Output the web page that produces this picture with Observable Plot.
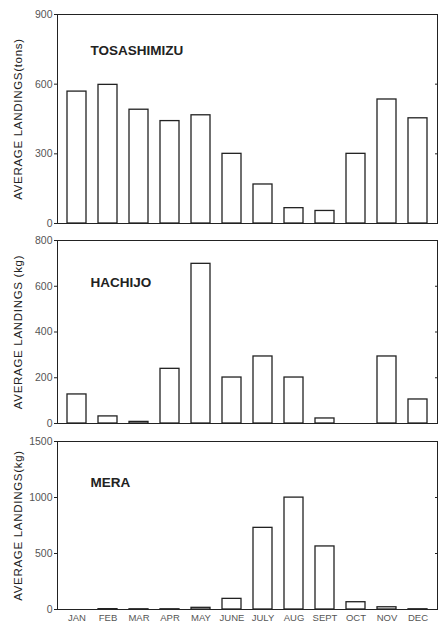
<!DOCTYPE html>
<html>
<head>
<meta charset="utf-8">
<script src="https://cdn.jsdelivr.net/npm/d3@7"></script>
<script src="https://cdn.jsdelivr.net/npm/@observablehq/plot@0.6"></script>
<style>
  html, body { margin: 0; padding: 0; background: #fff; }
  #chart { width: 439px; }
  #chart svg { display: block; }
</style>
</head>
<body>
<div id="chart"></div>
<script>
const months = ["JAN","FEB","MAR","APR","MAY","JUNE","JULY","AUG","SEPT","OCT","NOV","DEC"];
const tosashimizu = [568, 597, 490, 441, 466, 300, 168, 66, 54, 300, 534, 453];
const hachijo = [127, 31, 7, 239, 698, 201, 293, 201, 22, 0, 293, 105];
const mera = [0, 3, 2, 2, 15, 95, 729, 999, 563, 65, 20, 2];

const panelNames = ["TOSASHIMIZU", "HACHIJO", "MERA"];
const yLabels = ["AVERAGE LANDINGS(tons)", "AVERAGE LANDINGS (kg)", "AVERAGE LANDINGS(kg)"];
const yTicks = [[0, 300, 600, 900], [0, 200, 400, 600, 800], [0, 500, 1000, 1500]];
const yMax = [900, 800, 1500];

const series = [tosashimizu, hachijo, mera];
const layout = [
  {height: 232, marginTop: 14, marginBottom: 9, titleDy: 31},
  {height: 200, marginTop: 8, marginBottom: 9, titleDy: 37},
  {height: 192, marginTop: 9, marginBottom: 15, titleDy: 36}
];

const ink = "#222";
const grey = "#555";
const container = document.getElementById("chart");

series.forEach((vals, i) => {
  const data = months.map((m, j) => ({month: m, value: vals[j]}));
  const L = layout[i];
  const last = i === series.length - 1;
  const plot = Plot.plot({
    width: 439,
    height: L.height,
    marginLeft: 57,
    marginRight: 2,
    marginTop: L.marginTop,
    marginBottom: L.marginBottom,
    style: {fontFamily: "'Liberation Sans', Arial, sans-serif", background: "#fff", color: ink},
    x: {domain: months, paddingInner: 0.4, paddingOuter: 0.19, axis: null},
    y: {domain: [0, yMax[i]], axis: null},
    marks: [
      Plot.frame({stroke: ink, strokeWidth: 1}),
      Plot.barY(data, {x: "month", y: "value", fill: "#fff", stroke: ink, strokeWidth: 1.3}),
      Plot.axisY({
        ticks: yTicks[i], tickSize: 3, tickPadding: 2, fontSize: 10.5,
        tickFormat: d3.format("d"),
        color: grey, stroke: ink, label: null
      }),
      Plot.axisY({
        ticks: [], tickSize: 0, tickFormat: () => "", color: ink,
        label: yLabels[i], labelAnchor: "center", labelOffset: 44, labelArrow: false,
        fontSize: 11.5
      }),
      Plot.axisY({
        ticks: yTicks[i], anchor: "right", tickSize: -3, tickFormat: () => "", label: null, stroke: ink
      }),
      last ? Plot.axisX({tickSize: 0, tickPadding: 5, fontSize: 9.5, color: grey, label: null}) : null,
      Plot.text([panelNames[i]], {
        text: d => d, frameAnchor: "top-left", dx: 33, dy: L.titleDy,
        fontSize: 13.5, fontWeight: "bold", fill: ink, textAnchor: "start"
      })
    ]
  });
  plot.querySelectorAll("g[aria-label='y-axis label']").forEach(el => {
    el.style.letterSpacing = "0.7px";
    el.style.fontSize = "11.5px";
  });
  container.appendChild(plot);
});
</script>
</body>
</html>
